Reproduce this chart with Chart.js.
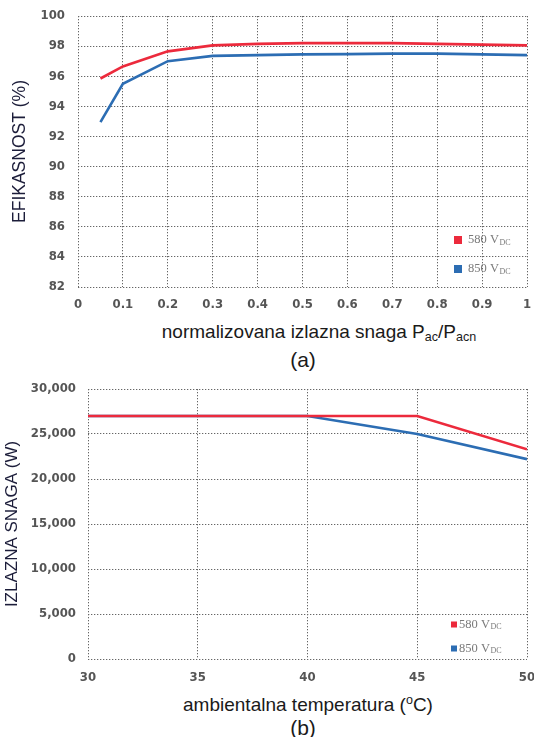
<!DOCTYPE html>
<html><head><meta charset="utf-8">
<script src="https://cdn.jsdelivr.net/npm/chart.js@4.4.1/dist/chart.umd.min.js"></script>
<style>
body{margin:0;background:#fff;width:534px;height:737px;position:relative;overflow:hidden;font-family:'Liberation Sans',Arial,sans-serif;}
.box{position:absolute;left:0;width:534px;}
.lbl{position:absolute;color:#1a1a1a;white-space:nowrap;transform:translate(-50%,-50%);}
sub{font-size:66%;vertical-align:-0.2em;line-height:0;}
sup{font-size:66%;vertical-align:0.55em;line-height:0;}
</style></head><body>
<div class="box" style="top:0;height:314px"><canvas id="ca" width="534" height="314"></canvas></div>
<div class="box" style="top:373px;height:314px"><canvas id="cb" width="534" height="314"></canvas></div>
<div class="lbl" style="left:319px;top:332px;font-size:19px">normalizovana izlazna snaga P<sub>ac</sub>/P<sub>acn</sub></div>
<div class="lbl" style="left:303px;top:360px;font-size:21px">(a)</div>
<div class="lbl" style="left:308px;top:705px;font-size:19px">ambientalna temperatura (<sup>o</sup>C)</div>
<div class="lbl" style="left:303px;top:728px;font-size:21px">(b)</div>
<script>
// ---- Data: chart (a) efficiency vs normalized output power ----
const effPower = [0.05, 0.1, 0.2, 0.3, 0.4, 0.5, 0.6, 0.7, 0.8, 0.9, 1.0];
const eff580 = [95.85, 96.65, 97.65, 98.05, 98.15, 98.2, 98.2, 98.2, 98.15, 98.1, 98.05];
const eff850 = [92.95, 95.5, 97.0, 97.35, 97.4, 97.45, 97.47, 97.5, 97.5, 97.45, 97.4];
// ---- Data: chart (b) output power vs ambient temperature ----
const temps = [30, 35, 40, 45, 50];
const pow580 = [27000, 27000, 27000, 27000, 23300];
const pow850 = [27000, 27000, 27000, 25000, 22200];
// ---- Labels ----
const seriesMain = ['580 V', '850 V'];
const seriesSub = ['DC', 'DC'];
const titleA = 'EFIKASNOST (%)';
const titleB = 'IZLAZNA SNAGA (W)';

const RED = '#ec2a3c', BLUE = '#2c6db3';
const tickFont = {family: "'DejaVu Sans Condensed','DejaVu Sans',sans-serif", size: 13, weight: 'bold'};
const gridCfg = {color: '#666', lineWidth: 1, drawTicks: false};
const borderCfg = {display: false, dash: [1.3, 1.7]};

function pts(xs, ys){ return xs.map((x,i)=>({x:x, y:ys[i]})); }

const legendPlugin = {
  id: 'subLegend',
  afterDraw(chart, args, opts){
    const ctx = chart.ctx, ca = chart.chartArea;
    ctx.save();
    chart.data.datasets.forEach((ds, i) => {
      const cy = ca.bottom - opts.rows[i];
      const sx = ca.right - opts.fromRight;
      ctx.fillStyle = ds.borderColor;
      ctx.fillRect(sx, cy - opts.size/2, opts.size, opts.size);
      ctx.fillStyle = '#7a7a7a';
      ctx.textBaseline = 'middle';
      ctx.textAlign = 'left';
      ctx.font = opts.fontSize + "px 'Liberation Serif',serif";
      const tx = sx + opts.textGap;
      ctx.fillText(seriesMain[i], tx, cy);
      const w = ctx.measureText(seriesMain[i]).width;
      ctx.font = Math.round(opts.fontSize*0.62) + "px 'Liberation Serif',serif";
      ctx.fillText(seriesSub[i], tx + w + 0.5, cy + opts.fontSize*0.22);
    });
    ctx.restore();
  }
};

function lineDs(label, data, color){
  return {label, data, borderColor: color, backgroundColor: color, borderWidth: 2.6,
    pointRadius: 0, tension: 0, fill: false};
}
function fitX(h){ return s => { s.height = h; s.paddingRight = 0; s.paddingLeft = 0; }; }
function fitY(w){ return s => { s.width = w; s.paddingTop = 0; s.paddingBottom = 0; }; }

new Chart(document.getElementById('ca'), {
  type: 'line',
  data: {datasets: [lineDs(seriesMain[0]+seriesSub[0], pts(effPower, eff580), RED),
                    lineDs(seriesMain[1]+seriesSub[1], pts(effPower, eff850), BLUE)]},
  options: {
    responsive: false, animation: false, devicePixelRatio: 1,
    layout: {padding: {top: 16, right: 7, left: 0, bottom: 0}},
    plugins: {legend: {display: false}, tooltip: {enabled: false},
      subLegend: {rows: [47, 18], fromRight: 73, size: 8, textGap: 14, fontSize: 12.5}},
    scales: {
      x: {type: 'linear', min: 0, max: 1,
        afterFit: fitX(27),
        ticks: {stepSize: 0.1, padding: 10, color: '#555', font: tickFont,
          callback: v => String(Number(v.toFixed(1)))},
        grid: gridCfg, border: borderCfg},
      y: {min: 82, max: 100,
        afterFit: fitY(78),
        ticks: {stepSize: 2, padding: 13, color: '#555', font: tickFont},
        grid: gridCfg, border: borderCfg,
        title: {display: true, text: titleA, color: '#1c1d3a',
          font: {family: "'Liberation Sans',Arial,sans-serif", size: 17.5}, padding: {top: 10}}}
    }
  },
  plugins: [legendPlugin]
});

new Chart(document.getElementById('cb'), {
  type: 'line',
  data: {datasets: [lineDs(seriesMain[0]+seriesSub[0], pts(temps, pow580), RED),
                    lineDs(seriesMain[1]+seriesSub[1], pts(temps, pow850), BLUE)]},
  options: {
    responsive: false, animation: false, devicePixelRatio: 1,
    layout: {padding: {top: 16, right: 7, left: 0, bottom: 0}},
    plugins: {legend: {display: false}, tooltip: {enabled: false},
      subLegend: {rows: [34.5, 10.5], fromRight: 76, size: 6, textGap: 8, fontSize: 12.5}},
    scales: {
      x: {type: 'linear', min: 30, max: 50,
        afterFit: fitX(28),
        ticks: {stepSize: 5, padding: 11, color: '#555', font: tickFont},
        grid: gridCfg, border: borderCfg},
      y: {min: 0, max: 30000,
        afterFit: fitY(88),
        ticks: {stepSize: 5000, padding: 12, color: '#555', font: tickFont,
          callback: v => v.toLocaleString('en-US')},
        grid: gridCfg, border: borderCfg,
        title: {display: true, text: titleB, color: '#1c1d3a',
          font: {family: "'Liberation Sans',Arial,sans-serif", size: 17}, padding: {top: 2}}}
    }
  },
  plugins: [legendPlugin]
});
</script>
</body></html>
